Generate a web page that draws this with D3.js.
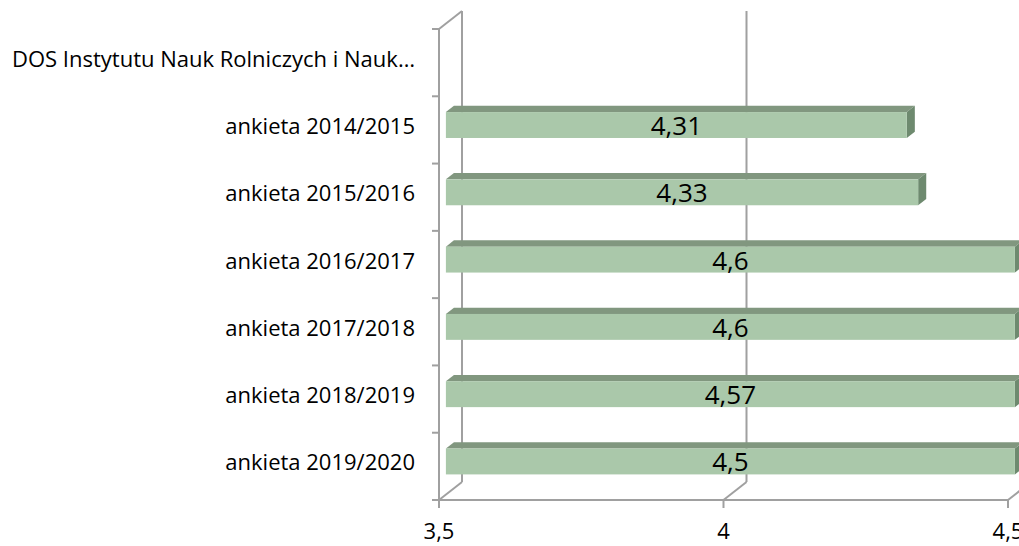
<!DOCTYPE html>
<html lang="pl">
  <head>
    <meta charset="UTF-8" />
    <title>ankieta</title>
    <script src="https://d3js.org/d3.v7.min.js"></script>
    <style>
      body { margin: 0; background: #fff; }
      text { font-family: "Open Sans", "Noto Sans", sans-serif; fill: #000; }
    </style>
  </head>
  <body>
    <svg id="chart" width="1019" height="546"></svg>
    <script>
      const categories = [
        "DOS Instytutu Nauk Rolniczych i Nauk…",
        "ankieta 2014/2015",
        "ankieta 2015/2016",
        "ankieta 2016/2017",
        "ankieta 2017/2018",
        "ankieta 2018/2019",
        "ankieta 2019/2020",
      ];
      const values = [null, 4.31, 4.33, 4.6, 4.6, 4.57, 4.5];
      const valueLabels = ["", "4,31", "4,33", "4,6", "4,6", "4,57", "4,5"];
      const xTicks = [3.5, 4, 4.5];
      const xTickLabels = ["3,5", "4", "4,5"];

      const svg = d3.select("#chart");
      const W = +svg.attr("width");

      // 3D depth offset of the wall (full depth) and of the bar
      const depth = { dx: 23, dy: -18 };
      const barFront = 0.3, barBack = 0.65;
      const off = (t) => [depth.dx * t, depth.dy * t];

      const x = d3.scaleLinear().domain([3.5, 4.5]).range([439, 1008]);
      const y = d3.scaleBand().domain(categories).range([29, 500])
        .paddingInner(0.6).paddingOuter(0.3);

      const gridColor = "#a0a0a0";
      const g = svg.append("g");

      // back wall grid lines + floor diagonals
      xTicks.forEach((t) => {
        const [bx, by] = off(1);
        g.append("line")
          .attr("x1", x(t) + bx).attr("x2", x(t) + bx)
          .attr("y1", 29 + by).attr("y2", 500 + by)
          .attr("stroke", gridColor).attr("stroke-width", 2);
        g.append("line")
          .attr("x1", x(t)).attr("y1", 500)
          .attr("x2", x(t) + bx).attr("y2", 500 + by)
          .attr("stroke", gridColor).attr("stroke-width", 2);
      });
      // side wall top edge
      g.append("line")
        .attr("x1", x(3.5)).attr("y1", 29)
        .attr("x2", x(3.5) + off(1)[0]).attr("y2", 29 + off(1)[1])
        .attr("stroke", gridColor).attr("stroke-width", 2);

      // bars
      const data = categories.map((c, i) => ({ c, v: values[i], label: valueLabels[i] }))
        .filter((d) => d.v != null);

      const [fx, fy] = off(barFront);
      const [kx, ky] = off(barBack);
      const bars = g.selectAll("g.bar").data(data).join("g").attr("class", "bar");

      bars.each(function (d) {
        const sel = d3.select(this);
        const x0 = x(3.5) + fx;
        const x1 = x(Math.min(d.v, 4.5)) + fx;
        const y0 = y(d.c) + fy + 1;
        const y1 = y0 + y.bandwidth() - 1;
        const ddx = kx - fx, ddy = ky - fy;
        // top face
        sel.append("path")
          .attr("d", `M${x0},${y0}L${x0 + ddx},${y0 + ddy}L${x1 + ddx},${y0 + ddy}L${x1},${y0}Z`)
          .attr("fill", "#81977f");
        // side face
        sel.append("path")
          .attr("d", `M${x1},${y0}L${x1 + ddx},${y0 + ddy}L${x1 + ddx},${y1 + ddy}L${x1},${y1}Z`)
          .attr("fill", "#6e8a6f");
        // front face
        sel.append("rect")
          .attr("x", x0).attr("y", y0)
          .attr("width", x1 - x0).attr("height", y1 - y0)
          .attr("fill", "#aac8aa");
        // label centred on visible part
        const visRight = Math.min(x1, W);
        sel.append("text")
          .attr("x", (x0 + visRight) / 2)
          .attr("y", (y0 + y1) / 2 + 10)
          .attr("text-anchor", "middle")
          .attr("font-size", 26)
          .text(d.label);
      });

      // front axes
      g.append("line")
        .attr("x1", x(3.5)).attr("x2", x(3.5))
        .attr("y1", 29).attr("y2", 500)
        .attr("stroke", gridColor).attr("stroke-width", 2);
      g.append("line")
        .attr("x1", x(3.5)).attr("x2", x(4.5))
        .attr("y1", 500).attr("y2", 500)
        .attr("stroke", gridColor).attr("stroke-width", 2);

      // category boundary ticks
      const step = y.step();
      d3.range(categories.length + 1).forEach((i) => {
        const yy = 29 + i * step;
        g.append("line")
          .attr("x1", x(3.5) - 7).attr("x2", x(3.5))
          .attr("y1", yy).attr("y2", yy)
          .attr("stroke", gridColor).attr("stroke-width", 2);
      });

      // x ticks
      xTicks.forEach((t, i) => {
        g.append("line")
          .attr("x1", x(t)).attr("x2", x(t))
          .attr("y1", 500).attr("y2", 508)
          .attr("stroke", gridColor).attr("stroke-width", 2);
        g.append("text")
          .attr("x", x(t)).attr("y", 539)
          .attr("text-anchor", "middle")
          .attr("font-size", 22)
          .text(xTickLabels[i]);
      });

      // category labels
      categories.forEach((c) => {
        g.append("text")
          .attr("x", 415)
          .attr("y", y(c) + y.bandwidth() / 2 + 4)
          .attr("text-anchor", "end")
          .attr("font-size", 22)
          .text(c);
      });
    </script>
  </body>
</html>
